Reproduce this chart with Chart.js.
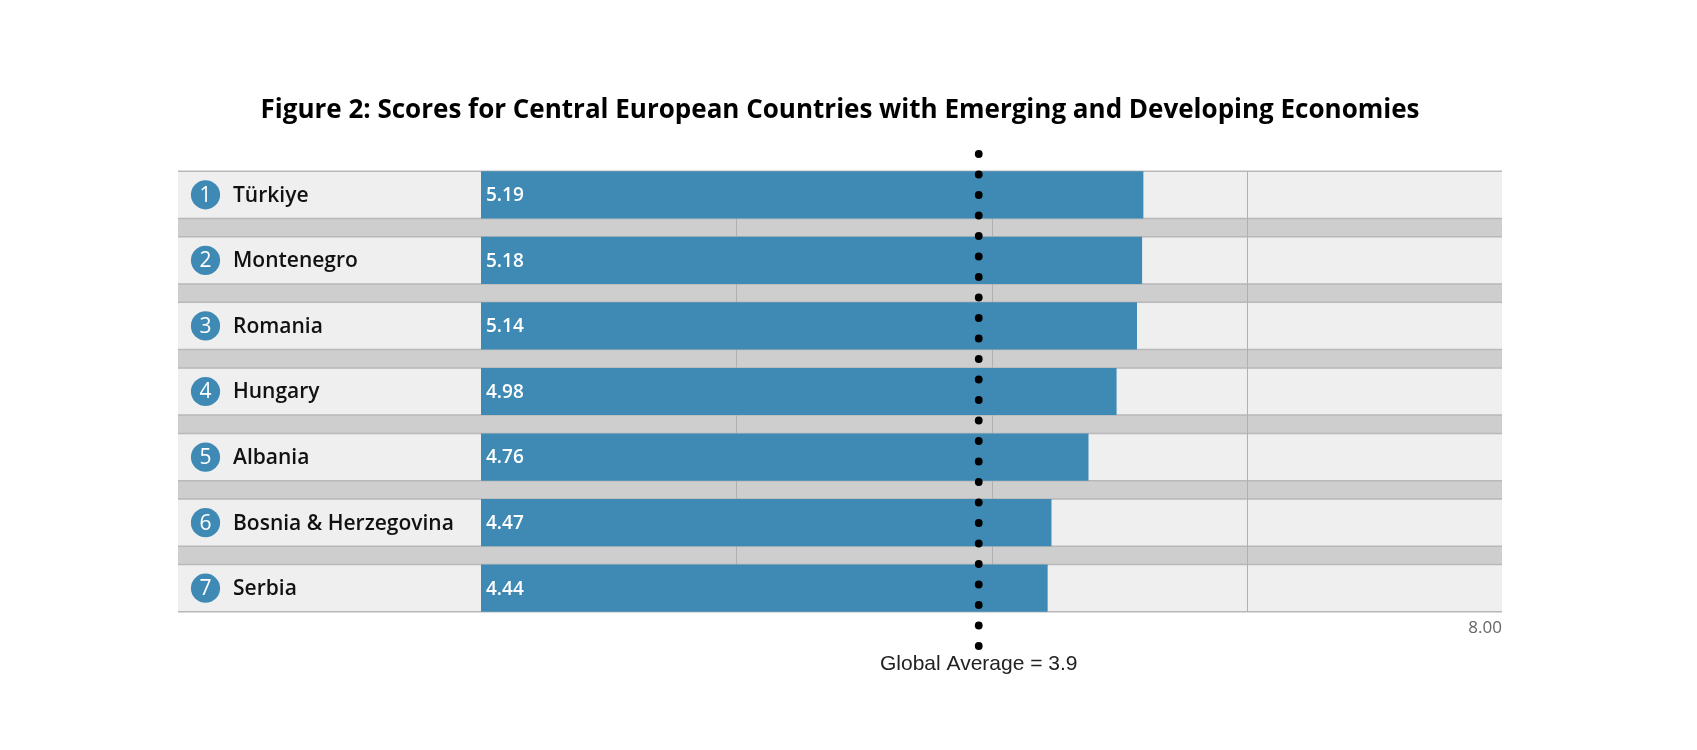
<!DOCTYPE html>
<html>
<head>
    <meta charset="utf-8">
    <title>Figure 2</title>
    <script src="https://cdn.jsdelivr.net/npm/chart.js"></script>
    <style>
        body { margin: 0; background: #fff; }
        .chart-container { position: relative; width: 1697px; height: 750px; }
    </style>
</head>
<body>
    <div class="chart-container">
        <canvas id="scoreChart"></canvas>
    </div>

    <script>
        // Data
        const countries = ['Türkiye', 'Montenegro', 'Romania', 'Hungary', 'Albania', 'Bosnia & Herzegovina', 'Serbia'];
        const scores = [5.19, 5.18, 5.14, 4.98, 4.76, 4.47, 4.44];
        const gridValues = [2, 4, 6];
        const globalAverage = 3.9;
        const axisMax = 8;

        const BLUE = '#3f8ab5';
        const FONT = '"Open Sans", Lato, sans-serif';
        const PANEL_LEFT = 178;
        const BAR_FRAC = 0.72;

        // Row panels, grid, labels, average line
        const decor = {
            id: 'decor',
            beforeDatasetsDraw(chart) {
                const { ctx, chartArea, scales } = chart;
                const y = scales.y, x = scales.x;
                const half = (y.getPixelForValue(1) - y.getPixelForValue(0)) * BAR_FRAC / 2;
                const left = PANEL_LEFT, right = chartArea.right;
                const top = y.getPixelForValue(0) - half;
                const bottom = y.getPixelForValue(countries.length - 1) + half;
                ctx.save();
                ctx.fillStyle = '#cecece';
                ctx.fillRect(left, top, right - left, bottom - top);
                countries.forEach((c, i) => {
                    const cy = y.getPixelForValue(i);
                    ctx.fillStyle = '#efefef';
                    ctx.fillRect(left, cy - half, right - left, half * 2);
                    ctx.strokeStyle = '#b8b8b8';
                    ctx.lineWidth = 1.5;
                    ctx.beginPath();
                    ctx.moveTo(left, cy - half); ctx.lineTo(right, cy - half);
                    ctx.moveTo(left, cy + half); ctx.lineTo(right, cy + half);
                    ctx.stroke();
                });
                ctx.strokeStyle = '#b0b0b0';
                ctx.lineWidth = 1;
                gridValues.forEach(v => {
                    const gx = Math.round(x.getPixelForValue(v)) + 0.5;
                    ctx.beginPath();
                    ctx.moveTo(gx, top); ctx.lineTo(gx, bottom);
                    ctx.stroke();
                });
                ctx.restore();
            },
            afterDraw(chart) {
                const { ctx, chartArea, scales } = chart;
                const y = scales.y, x = scales.x;
                ctx.save();
                // title, fitted to the reference width
                const title = 'Figure 2: Scores for Central European Countries with Emerging and Developing Economies';
                ctx.font = 'bold 24px ' + FONT;
                const size = Math.min(26, 24 * 1190 / ctx.measureText(title).width);
                ctx.font = 'bold ' + size + 'px ' + FONT;
                ctx.fillStyle = '#000';
                ctx.textAlign = 'center';
                ctx.textBaseline = 'middle';
                ctx.fillText(title, (PANEL_LEFT + chartArea.right) / 2, 111);

                countries.forEach((c, i) => {
                    const cy = y.getPixelForValue(i);
                    ctx.fillStyle = BLUE;
                    ctx.beginPath();
                    ctx.arc(205.5, cy, 14.6, 0, Math.PI * 2);
                    ctx.fill();
                    ctx.fillStyle = '#fff';
                    ctx.font = '21px ' + FONT;
                    ctx.textAlign = 'center';
                    ctx.fillText(String(i + 1), 205.5, cy + 1);
                    ctx.fillStyle = '#111';
                    ctx.font = '600 21px ' + FONT;
                    ctx.textAlign = 'left';
                    ctx.fillText(c, 233, cy + 1);
                    ctx.fillStyle = '#fff';
                    ctx.font = '600 19px ' + FONT;
                    ctx.fillText(scores[i].toFixed(2), x.getPixelForValue(0) + 5, cy + 1);
                });

                // axis end label
                ctx.fillStyle = '#666';
                ctx.font = '17px ' + FONT;
                ctx.textAlign = 'right';
                ctx.fillText(axisMax.toFixed(2), x.getPixelForValue(axisMax), 628);

                // global average dotted line
                const ax = x.getPixelForValue(globalAverage);
                ctx.fillStyle = '#000';
                for (let dy = 154; dy <= 646; dy += 20.5) {
                    ctx.beginPath();
                    ctx.arc(ax, dy, 3.9, 0, Math.PI * 2);
                    ctx.fill();
                }
                ctx.font = '21px "Liberation Sans", Arial, sans-serif';
                ctx.textAlign = 'center';
                ctx.fillStyle = '#222';
                ctx.fillText('Global Average = ' + globalAverage, ax, 664);
                ctx.restore();
            }
        };

        const scoreChart = new Chart(document.getElementById('scoreChart'), {
            type: 'bar',
            data: {
                labels: countries,
                datasets: [{
                    data: scores,
                    backgroundColor: BLUE,
                    borderWidth: 0,
                    barPercentage: 1,
                    categoryPercentage: BAR_FRAC
                }]
            },
            options: {
                indexAxis: 'y',
                responsive: true,
                maintainAspectRatio: false,
                animation: false,
                layout: { padding: { left: 481, right: 195, top: 162, bottom: 129 } },
                plugins: { legend: { display: false }, tooltip: { enabled: false } },
                scales: {
                    x: { display: false, min: 0, max: axisMax },
                    y: { display: false }
                }
            },
            plugins: [decor]
        });
    </script>
</body>
</html>
